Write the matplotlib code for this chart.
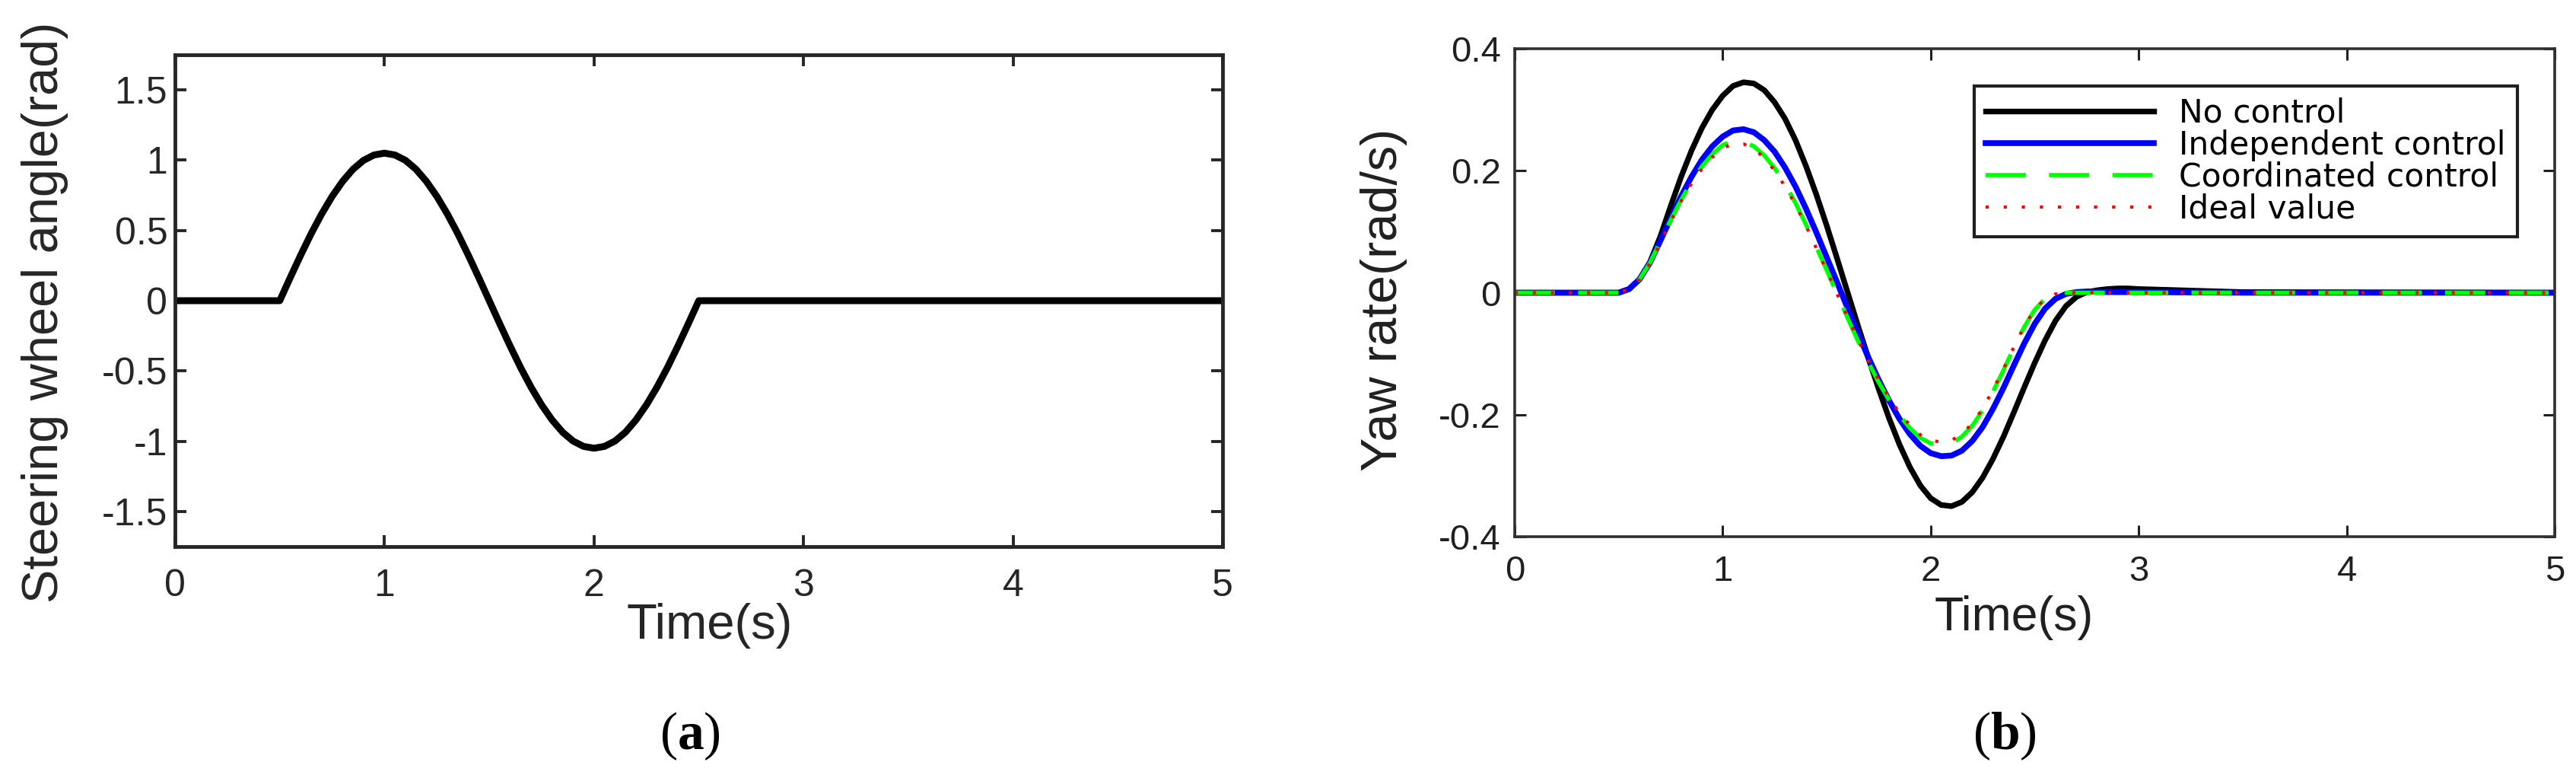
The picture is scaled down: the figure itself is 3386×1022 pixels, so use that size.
import matplotlib.pyplot as plt

W, H = 3386, 1022

# panel (a): steering wheel angle
t_steer = [0.0, 0.5, 0.55, 0.6, 0.65, 0.7, 0.75, 0.8, 0.85, 0.9, 0.95, 1.0,
           1.05, 1.1, 1.15, 1.2, 1.25, 1.3, 1.35, 1.4, 1.45, 1.5,
           1.55, 1.6, 1.65, 1.7, 1.75, 1.8, 1.85, 1.9, 1.95, 2.0,
           2.05, 2.1, 2.15, 2.2, 2.25, 2.3, 2.35, 2.4, 2.45, 2.5, 5.0]
steer = [0.0, 0.0, 0.164, 0.324, 0.477, 0.617, 0.742, 0.849, 0.936, 0.999, 1.037, 1.05,
         1.037, 0.999, 0.936, 0.849, 0.742, 0.617, 0.477, 0.324, 0.164, 0.0,
         -0.164, -0.324, -0.477, -0.617, -0.742, -0.849, -0.936, -0.999, -1.037, -1.05,
         -1.037, -0.999, -0.936, -0.849, -0.742, -0.617, -0.477, -0.324, -0.164, 0.0, 0.0]

# panel (b): yaw rate
t_yaw = [0.0, 0.5, 0.55, 0.6, 0.65, 0.7, 0.75, 0.8, 0.85, 0.9, 0.95,
         1.0, 1.05, 1.1, 1.15, 1.2, 1.25, 1.3, 1.35, 1.4, 1.45,
         1.5, 1.55, 1.6, 1.65, 1.7, 1.75, 1.8, 1.85, 1.9, 1.95,
         2.0, 2.05, 2.1, 2.15, 2.2, 2.25, 2.3, 2.35, 2.4, 2.45,
         2.5, 2.55, 2.6, 2.65, 2.7, 2.75, 2.8, 2.85, 2.9, 2.95,
         3.0, 3.5, 5.0]
yaw_none = [0.0, 0.0, 0.006, 0.022, 0.05, 0.092, 0.142, 0.19, 0.233, 0.27, 0.3,
            0.323, 0.339, 0.345, 0.343, 0.332, 0.312, 0.285, 0.25, 0.208, 0.161,
            0.11, 0.056, 0.001, -0.054, -0.107, -0.158, -0.206, -0.249, -0.286, -0.316,
            -0.337, -0.348, -0.35, -0.343, -0.327, -0.303, -0.272, -0.236, -0.196, -0.155,
            -0.115, -0.078, -0.046, -0.022, -0.007, 0.001, 0.004, 0.006, 0.007, 0.007,
            0.006, 0.001, 0.0]
yaw_indep = [0.0, 0.0, 0.006, 0.022, 0.049, 0.085, 0.122, 0.158, 0.19, 0.218, 0.24,
             0.256, 0.266, 0.268, 0.263, 0.25, 0.231, 0.205, 0.174, 0.138, 0.099,
             0.058, 0.017, -0.025, -0.066, -0.106, -0.143, -0.177, -0.207, -0.232, -0.251,
             -0.263, -0.268, -0.267, -0.259, -0.243, -0.22, -0.19, -0.156, -0.119, -0.083,
             -0.051, -0.026, -0.01, -0.002, 0.001, 0.002, 0.002, 0.001, 0.001, 0.001,
             0.001, 0.0, 0.0]
yaw_coord = [0.0, 0.0, 0.006, 0.022, 0.049, 0.084, 0.119, 0.152, 0.182, 0.207, 0.227,
             0.242, 0.249, 0.248, 0.24, 0.225, 0.204, 0.178, 0.147, 0.112, 0.075,
             0.037, -0.002, -0.041, -0.079, -0.114, -0.147, -0.176, -0.201, -0.222, -0.238,
             -0.247, -0.25, -0.247, -0.236, -0.218, -0.193, -0.162, -0.127, -0.09, -0.056,
             -0.028, -0.01, -0.002, 0.0, 0.0, 0.0, 0.0, 0.0, 0.0, 0.0,
             0.0, 0.0, 0.0]
yaw_ideal = [0.0, 0.0, 0.006, 0.022, 0.048, 0.082, 0.117, 0.15, 0.179, 0.203, 0.222,
             0.237, 0.244, 0.244, 0.236, 0.221, 0.2, 0.174, 0.144, 0.11, 0.073,
             0.036, -0.002, -0.04, -0.077, -0.111, -0.143, -0.172, -0.197, -0.217, -0.233,
             -0.242, -0.245, -0.242, -0.232, -0.214, -0.19, -0.159, -0.125, -0.089, -0.055,
             -0.027, -0.01, -0.002, 0.0, 0.0, 0.0, 0.0, 0.0, 0.0, 0.0,
             0.0, 0.0, 0.0]

legend_labels = ['No control', 'Independent control', 'Coordinated control', 'Ideal value']

plt.rcParams['font.family'] = ['Liberation Sans', 'DejaVu Sans']
plt.rcParams['mathtext.fontset'] = 'custom'
plt.rcParams['mathtext.rm'] = 'Liberation Serif'
plt.rcParams['mathtext.bf'] = 'Liberation Serif:bold'

fig = plt.figure(figsize=(W / 100, H / 100), dpi=100)


def px_axes(x0, y0, x1, y1):
    return fig.add_axes([x0 / W, 1 - y1 / H, (x1 - x0) / W, (y1 - y0) / H])


gray = '#262626'

# ---- (a)
ax1 = px_axes(230, 72, 1607, 718)
ax1.plot(t_steer, steer, color='black', lw=6.5)
ax1.set_xlim(0, 5)
ax1.set_ylim(-1.75, 1.75)
ax1.set_xticks([0, 1, 2, 3, 4, 5])
ax1.set_yticks([-1.5, -1, -0.5, 0, 0.5, 1, 1.5])
ax1.set_yticklabels(['-1.5', '-1', '-0.5', '0', '0.5', '1', '1.5'])
ax1.tick_params(direction='in', length=11, width=2.8, top=True, right=True,
                labelsize=36, colors=gray)
ax1.tick_params(axis='x', pad=21)
ax1.tick_params(axis='y', pad=7)
for sp in ax1.spines.values():
    sp.set_linewidth(3.5)
    sp.set_color(gray)
ax1.set_xlabel('Time(s)', fontsize=47, color=gray)
ax1.xaxis.set_label_coords(0.51, -0.115)
ax1.set_ylabel('Steering wheel angle(rad)', fontsize=48, color=gray)
ax1.yaxis.set_label_coords(-0.102, 0.477)

# ---- (b)
ax2 = px_axes(1991, 64, 3358, 705)
ax2.plot(t_yaw, yaw_none, color='black', lw=5.3, label=legend_labels[0])
ax2.plot(t_yaw, yaw_indep, color='#0000ff', lw=5.5, label=legend_labels[1])
ax2.plot(t_yaw, yaw_coord, color='#00ff00', lw=4, ls=(0, (9.5, 5.5)), label=legend_labels[2])
ax2.plot(t_yaw, yaw_ideal, color='#ff0000', lw=3, ls=(0, (1, 4.7)), label=legend_labels[3])
ax2.set_xlim(0, 5)
ax2.set_ylim(-0.4, 0.4)
ax2.set_xticks([0, 1, 2, 3, 4, 5])
ax2.set_yticks([-0.4, -0.2, 0, 0.2, 0.4])
ax2.set_yticklabels(['-0.4', '-0.2', '0', '0.2', '0.4'])
ax2.tick_params(direction='in', length=11, width=2.2, top=True, right=True,
                labelsize=34, colors='#202020')
ax2.tick_params(axis='x', pad=17)
ax2.tick_params(axis='y', pad=13)
for sp in ax2.spines.values():
    sp.set_linewidth(2.6)
    sp.set_color('#303030')
ax2.set_xlabel('Time(s)', fontsize=45, color='#202020')
ax2.xaxis.set_label_coords(0.48, -0.12)
ax2.set_ylabel('Yaw rate(rad/s)', fontsize=48, color='#202020')
ax2.yaxis.set_label_coords(-0.103, 0.485)

leg = ax2.legend(loc='upper right', bbox_to_anchor=(0.964, 0.9236), fancybox=False,
                 framealpha=1, edgecolor='#202020', handlelength=5.2, handletextpad=0.8,
                 labelspacing=0.0, borderpad=0.35, borderaxespad=0,
                 prop={'family': 'DejaVu Sans', 'size': 30.5})
leg.get_frame().set_linewidth(3)

fig.text(907 / W, 1 - 967 / H, r'($\mathbf{a}$)', ha='center', va='center', fontsize=50,
         family='Liberation Serif')
fig.text(2635 / W, 1 - 967 / H, r'($\mathbf{b}$)', ha='center', va='center', fontsize=50,
         family='Liberation Serif')

fig.savefig('out.png', dpi=100, facecolor='white')
